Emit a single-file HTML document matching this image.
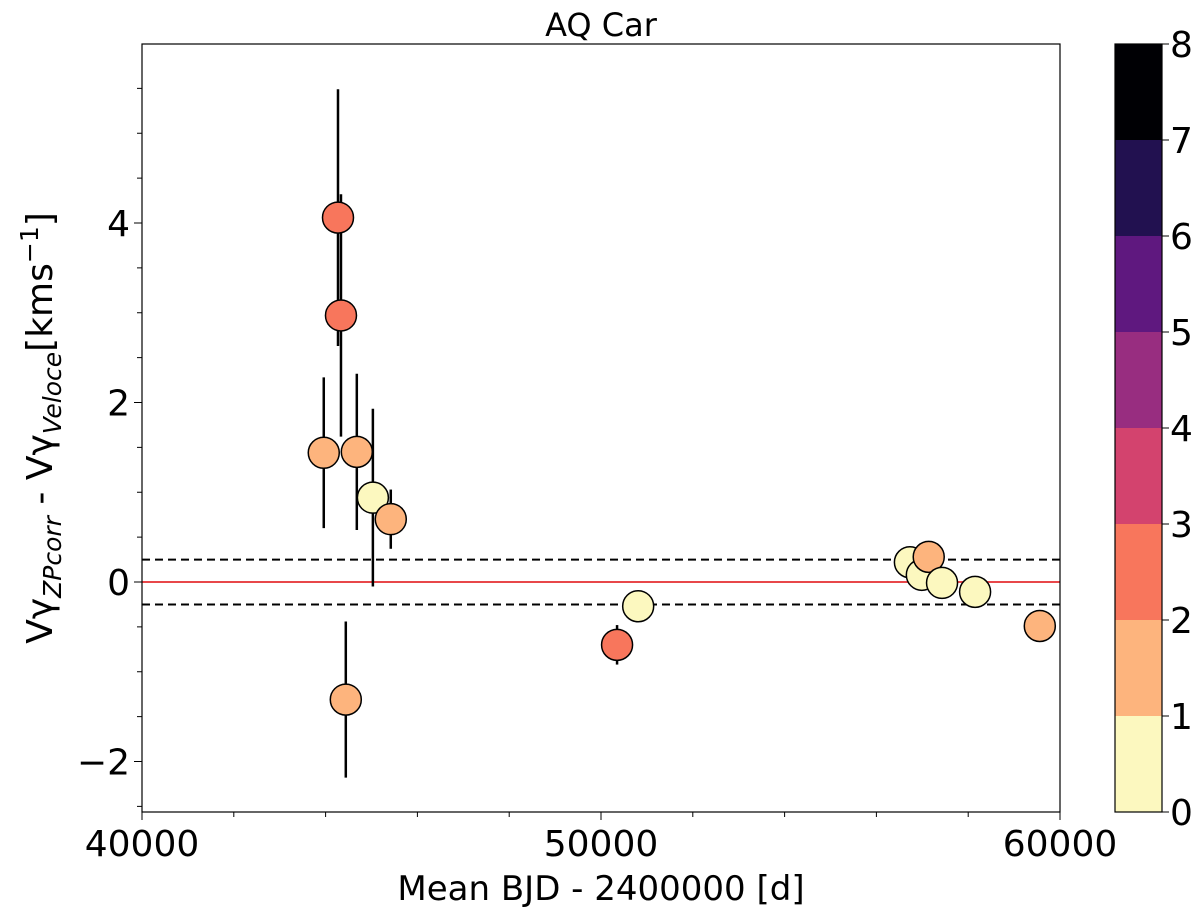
<!DOCTYPE html>
<html><head><meta charset="utf-8"><style>
body{margin:0;background:#fff;}
svg text{font-family:"DejaVu Sans","Liberation Sans",sans-serif;fill:#000;}
</style></head><body>
<svg id="chart" width="1200" height="918" xmlns="http://www.w3.org/2000/svg">
<text x="601" y="36" font-size="32" text-anchor="middle">AQ Car</text>
<g id="plot"></g>
<rect x="142" y="44" width="918" height="768" fill="none" stroke="#000" stroke-width="1.2"/>
<text x="601" y="900" font-size="34" text-anchor="middle">Mean BJD - 2400000 [d]</text>
<text transform="translate(52,428) rotate(-90)" font-size="36" text-anchor="middle">Vγ<tspan font-size="25" font-style="italic" dy="9">ZPcorr</tspan><tspan dy="-9"> - Vγ</tspan><tspan font-size="25" font-style="italic" dy="9">Veloce</tspan><tspan dy="-9">[kms</tspan><tspan font-size="25" dy="-14">−1</tspan><tspan dy="14">]</tspan></text>
<g id="cbar"></g>
</svg>
<script>
const xVals=[44270,44335,43960,44680,45030,45420,44440,50350,50810,56730,56990,57140,57430,58150,59560];
const yVals=[4.06,2.97,1.44,1.45,0.94,0.70,-1.31,-0.7,-0.27,0.22,0.08,0.28,-0.01,-0.11,-0.49];
const yErr=[1.43,1.35,0.84,0.87,0.99,0.33,0.87,0.22,0,0,0,0,0,0,0];
const cVals=[2.5,2.5,1.5,1.5,0.5,1.5,1.5,2.5,0.5,0.5,0.5,1.5,0.5,0.5,1.5];
const xTicks=[40000,50000,60000];
const yTicks=[-2,0,2,4];
const cTicks=[0,1,2,3,4,5,6,7,8];
const cColors=["#fcf8bf","#fdb47d","#f8765c","#d3436e","#982d80","#5f187f","#221150","#000004"];
const NS="http://www.w3.org/2000/svg";
const X=v=>142+(v-40000)/20000*918;
const Y=v=>582-v*89.75;
const plot=document.getElementById('plot');
function mk(tag,attrs,parent){const e=document.createElementNS(NS,tag);for(const k in attrs)e.setAttribute(k,attrs[k]);(parent||plot).appendChild(e);return e;}
for(let v=42000;v<60000;v+=2000){if(v%10000){const t=mk('line',{x1:X(v),x2:X(v),y1:812,y2:817,stroke:'#000'});}}
xTicks.forEach(v=>{const t=mk('line',{x1:X(v),x2:X(v),y1:812,y2:820,stroke:'#000'});
const l=mk('text',{x:X(v),y:856,'font-size':36,'text-anchor':'middle'});l.textContent=v;});
for(let v=-2.5;v<=6;v+=0.5){if(Y(v)<44||Y(v)>812)continue;const t=mk('line',{x1:137,x2:142,y1:Y(v),y2:Y(v),stroke:'#000'});}
yTicks.forEach(v=>{const t=mk('line',{x1:134,x2:142,y1:Y(v),y2:Y(v),stroke:'#000'});
const l=mk('text',{x:130,y:Y(v)+13,'font-size':36,'text-anchor':'end'});l.textContent=v<0?'−'+(-v):v;});
let r=mk('line',{x1:142,x2:1060,y1:Y(0),y2:Y(0),stroke:'#e8474a','stroke-width':2});
[0.25,-0.25].forEach(v=>{const d=mk('line',{x1:142,x2:1060,y1:Y(v),y2:Y(v),stroke:'#000','stroke-width':2,'stroke-dasharray':'8,5'});});
xVals.forEach((x,i)=>{if(yErr[i]>0){const e=mk('line',{x1:X(x),x2:X(x),y1:Y(yVals[i]+yErr[i]),y2:Y(yVals[i]-yErr[i]),stroke:'#000','stroke-width':2.5});}});
xVals.forEach((x,i)=>{const c=mk('circle',{cx:X(x),cy:Y(yVals[i]),r:15.5,fill:cColors[Math.floor(cVals[i])],stroke:'#000','stroke-width':1.5});});
const cb=document.getElementById('cbar');
const CY=v=>812-v*96;
cColors.forEach((c,i)=>{const s=mk('rect',{x:1115,y:CY(i+1),width:47,height:96,fill:c},cb);});
let f=mk('rect',{x:1115,y:44,width:47,height:768,fill:'none',stroke:'#000','stroke-width':1.2},cb);
cTicks.forEach(v=>{const t=mk('line',{x1:1162,x2:1169,y1:CY(v),y2:CY(v),stroke:'#000'},cb);
const l=mk('text',{x:1170,y:CY(v)+13,'font-size':36},cb);l.textContent=v;});
</script>
</body></html>
